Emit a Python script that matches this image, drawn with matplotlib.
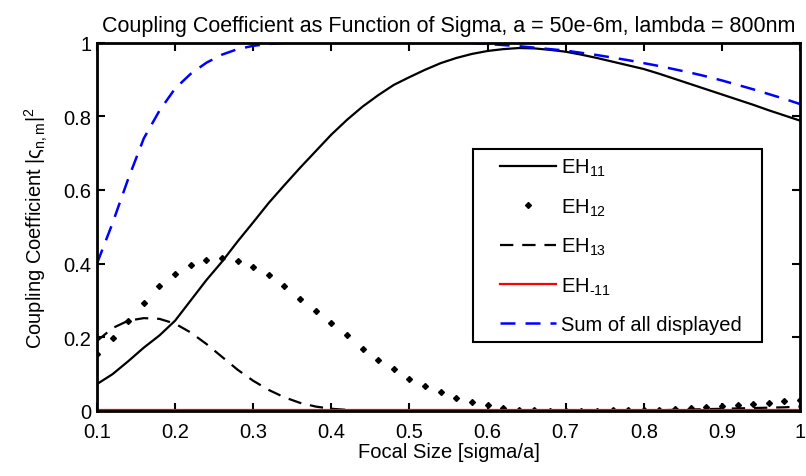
import numpy as np
import matplotlib
matplotlib.use("Agg")
from matplotlib import pyplot as plt
from matplotlib.lines import Line2D
from matplotlib.legend_handler import HandlerLine2D

plt.rcParams['font.family'] = ['Liberation Sans', 'DejaVu Sans']
plt.rcParams['mathtext.fontset'] = 'custom'
plt.rcParams['mathtext.rm'] = 'Liberation Sans'
plt.rcParams['mathtext.it'] = 'Liberation Sans'
plt.rcParams['mathtext.default'] = 'regular'

# focal size sigma/a, sampled every 0.02
sigma = [0.10, 0.12, 0.14, 0.16, 0.18, 0.20, 0.22, 0.24, 0.26, 0.28,
         0.30, 0.32, 0.34, 0.36, 0.38, 0.40, 0.42, 0.44, 0.46, 0.48,
         0.50, 0.52, 0.54, 0.56, 0.58, 0.60, 0.62, 0.64, 0.66, 0.68,
         0.70, 0.72, 0.74, 0.76, 0.78, 0.80, 0.82, 0.84, 0.86, 0.88,
         0.90, 0.92, 0.94, 0.96, 0.98, 1.00]

eh11 = [0.073, 0.100, 0.135, 0.172, 0.205, 0.245, 0.300, 0.355, 0.405, 0.460,
        0.512, 0.565, 0.613, 0.660, 0.705, 0.750, 0.790, 0.826, 0.857, 0.885,
        0.906, 0.926, 0.944, 0.958, 0.969, 0.977, 0.982, 0.985, 0.984, 0.980,
        0.975, 0.967, 0.958, 0.948, 0.938, 0.928, 0.915, 0.901, 0.887, 0.873,
        0.859, 0.845, 0.831, 0.816, 0.802, 0.788]

eh12 = [0.155, 0.197, 0.243, 0.293, 0.339, 0.372, 0.395, 0.410, 0.415, 0.406,
        0.392, 0.368, 0.338, 0.304, 0.270, 0.238, 0.205, 0.168, 0.139, 0.114,
        0.087, 0.069, 0.051, 0.035, 0.024, 0.016, 0.008, 0.004, 0.002, 0.001,
        0.001, 0.001, 0.001, 0.002, 0.002, 0.003, 0.004, 0.005, 0.007, 0.010,
        0.013, 0.016, 0.019, 0.022, 0.026, 0.030]

eh13 = [0.190, 0.225, 0.245, 0.252, 0.250, 0.237, 0.213, 0.182, 0.147, 0.112,
        0.082, 0.057, 0.037, 0.022, 0.012, 0.006, 0.003, 0.001, 0.000, 0.000,
        0.000, 0.000, 0.000, 0.000, 0.000, 0.000, 0.000, 0.000, 0.000, 0.000,
        0.000, 0.000, 0.001, 0.001, 0.001, 0.002, 0.002, 0.003, 0.004, 0.005,
        0.006, 0.007, 0.008, 0.009, 0.010, 0.012]

eh_m11 = [0.002, 0.002, 0.002, 0.002, 0.002, 0.002, 0.002, 0.002, 0.002, 0.002,
          0.002, 0.002, 0.002, 0.002, 0.002, 0.002, 0.002, 0.002, 0.002, 0.002,
          0.002, 0.002, 0.002, 0.002, 0.002, 0.002, 0.002, 0.002, 0.002, 0.002,
          0.002, 0.002, 0.002, 0.002, 0.002, 0.002, 0.002, 0.002, 0.002, 0.002,
          0.002, 0.002, 0.002, 0.002, 0.002, 0.002]

total = [0.400, 0.510, 0.630, 0.740, 0.815, 0.875, 0.915, 0.945, 0.967, 0.982,
         0.991, 0.996, 0.999, 1.000, 1.000, 1.000, 1.000, 1.000, 1.000, 1.000,
         1.000, 1.000, 1.000, 1.000, 0.999, 0.996, 0.993, 0.990, 0.986, 0.982,
         0.978, 0.972, 0.966, 0.959, 0.952, 0.944, 0.936, 0.927, 0.918, 0.908,
         0.897, 0.885, 0.873, 0.860, 0.847, 0.833]

fs = 14.5

fig = plt.figure(figsize=(8.06, 4.77), dpi=100)
ax = fig.add_axes([0.1203, 0.1363, 0.8723, 0.7725])

ax.plot(sigma, eh11, color='k', lw=1.6, label='EH$_{11}$')
ax.plot(sigma, eh12, ls='none', marker='D', ms=3, color='k', label='EH$_{12}$')
ax.plot(sigma, eh13, color='k', lw=1.6, ls=(0, (6, 4)), label='EH$_{13}$')
ax.plot(sigma, eh_m11, color='red', lw=1.6, label='EH$_{\u201011}$')
ax.plot(sigma, total, color='blue', lw=1.8, ls=(0, (6, 4)), label='Sum of all displayed')

ax.set_xlim(0.1, 1.0)
ax.set_ylim(0, 1)
ax.set_xticks([0.1, 0.2, 0.3, 0.4, 0.5, 0.6, 0.7, 0.8, 0.9, 1.0])
ax.set_xticklabels(['0.1', '0.2', '0.3', '0.4', '0.5', '0.6', '0.7', '0.8', '0.9', '1'])
ax.set_yticks([0, 0.2, 0.4, 0.6, 0.8, 1.0])
ax.set_yticklabels(['0', '0.2', '0.4', '0.6', '0.8', '1'])
ax.tick_params(direction='in', length=6, width=1.5, top=True, right=True,
               labelsize=fs, colors='k')
ax.tick_params(axis='x', pad=8)
ax.tick_params(axis='y', pad=4)
for sp in ax.spines.values():
    sp.set_linewidth(2)

ax.set_title('Coupling Coefficient as Function of Sigma, a = 50e-6m, lambda = 800nm',
             fontsize=15.5, pad=8)
ax.set_xlabel('Focal Size [sigma/a]', fontsize=fs, labelpad=1)
ax.set_ylabel('Coupling Coefficient |ς$_{n,m}$|$^2$', fontsize=fs, labelpad=10)

leg = ax.legend(loc='upper left', bbox_to_anchor=(0.535, 0.185, 0.411, 0.526),
                mode='expand', fontsize=fs, fancybox=False, framealpha=1,
                edgecolor='k', handlelength=3.7, handletextpad=0.25,
                labelspacing=0.9, borderaxespad=0, borderpad=0.4,
                handler_map={Line2D: HandlerLine2D(xpad=0.95)})
leg.get_frame().set_linewidth(1.5)

fig.savefig('out.png', dpi=100)
